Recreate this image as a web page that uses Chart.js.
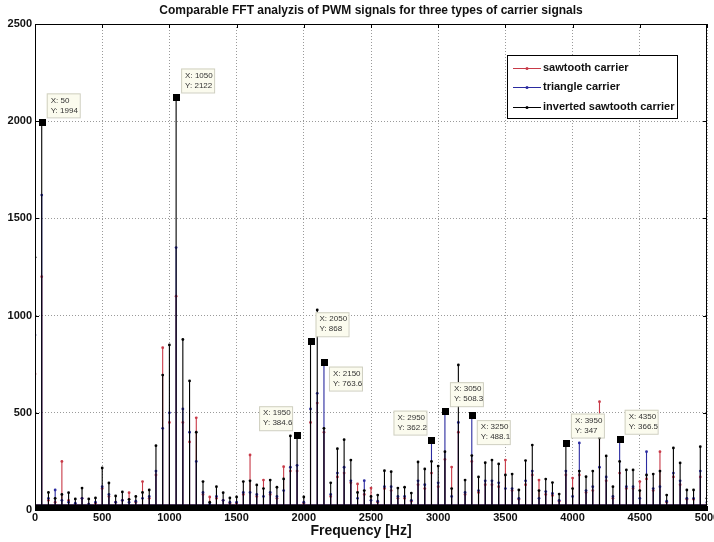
<!DOCTYPE html>
<html>
<head>
<meta charset="utf-8">
<script src="https://cdn.jsdelivr.net/npm/chart.js@4.4.1/dist/chart.umd.min.js"></script>
<style>
html,body{margin:0;padding:0;background:#fff}
#wrap{width:714px;height:542px}
</style>
</head>
<body>
<div id="wrap"><canvas id="fft" width="714" height="542"></canvas></div>
<script>
// harmonic frequencies (Hz)
var freqs = [0,50,100,150,200,250,300,350,400,450,500,550,600,650,700,750,800,850,900,950,
  1000,1050,1100,1150,1200,1250,1300,1350,1400,1450,1500,1550,1600,1650,1700,1750,1800,1850,1900,1950,
  2000,2050,2100,2150,2200,2250,2300,2350,2400,2450,2500,2550,2600,2650,2700,2750,2800,2850,2900,2950,
  3000,3050,3100,3150,3200,3250,3300,3350,3400,3450,3500,3550,3600,3650,3700,3750,3800,3850,3900,3950,
  4000,4050,4100,4150,4200,4250,4300,4350,4400,4450,4500,4550,4600,4650,4700,4750,4800,4850,4900,4950,5000];

var sawtooth = [700,1200,50,40,250,50,30,60,30,35,110,70,40,50,89,40,146,60,180,835,
  450,1100,450,350,474,80,67,60,50,35,35,80,283,70,154,80,60,223,200,200,
  35,450,550,400,70,170,190,140,134,80,113,40,110,100,60,60,45,130,110,190,
  120,260,221,400,80,250,90,130,130,120,257,100,55,130,180,154,80,75,45,180,
  164,180,90,100,557,150,60,190,110,110,146,160,100,300,40,170,130,55,55,170,30];

var triangle = [900,1620,60,103,50,40,35,60,30,40,120,80,40,50,40,45,60,70,200,420,
  500,1350,520,400,250,90,30,70,50,40,40,90,90,80,70,90,70,100,220,230,
  40,520,600,763.6,80,190,220,150,60,151,50,45,120,120,70,70,50,150,130,362.2,
  140,508.3,70,450,90,488.1,100,150,150,140,110,110,60,150,200,60,95,85,50,200,
  70,345,100,120,220,170,70,366.5,120,120,60,300,110,120,45,190,150,60,60,200,40];

var invSawtooth = [1300,1994,90,60,80,89,57,113,57,62,216,139,72,93,55,70,90,103,331,694,
  849,2122,877,664,400,146,40,120,89,62,67,146,150,129,110,154,117,160,381,384.6,
  67,868,1029,420,140,315,362,257,90,100,70,77,202,197,113,117,87,247,211,250,
  226,300,110,746,154,280,170,243,257,237,180,185,103,254,334,100,159,141,82,347,
  110,200,171,200,370,278,120,250,206,206,100,180,185,200,77,319,242,103,103,326,60];

var seriesNames = ['sawtooth carrier','triangle carrier','inverted sawtooth carrier'];
var seriesColors = ['#c83a48','#2b2ba0','#000000'];

// data tips
var tipX = [50,1050,1950,2050,2150,2950,3050,3250,3950,4350];
var tipY = [1994,2122,384.6,868,763.6,362.2,508.3,488.1,347,366.5];
var tipSide = ['ru','ru','lu','ru','rd','lu','ru','rd','ru','ru'];

var xTicks = [0,500,1000,1500,2000,2500,3000,3500,4000,4500,5000];
var yTicks = [0,500,1000,1500,2000,2500];

function stems(vals){
  var pts=[];
  for(var i=0;i<freqs.length;i++){
    pts.push({x:freqs[i],y:0});
    pts.push({x:freqs[i],y:vals[i]});
    pts.push({x:freqs[i],y:0});
  }
  return pts;
}

function makeSet(k, vals, ord){
  return {
    label: seriesNames[k],
    data: stems(vals),
    borderColor: seriesColors[k],
    backgroundColor: seriesColors[k],
    borderWidth: 1.1,
    // dense low-level floor along the baseline
    segment: {
      borderWidth: function(ctx){ return (ctx.p0.parsed.y===0 && ctx.p1.parsed.y===0) ? 11 : 1.1; }
    },
    pointRadius: function(ctx){ return ctx.raw && ctx.raw.y>0 ? 1.4 : 0; },
    pointBorderWidth: 0,
    pointBackgroundColor: seriesColors[k],
    tension: 0,
    fill: false,
    order: ord
  };
}

var tickFont = {family:'"Liberation Sans Narrow", "Liberation Sans", Arial, sans-serif', size:11, weight:'bold'};

var extras = {
  id:'extras',
  afterDraw:function(chart){
    var c=chart.ctx, a=chart.chartArea, xs=chart.scales.x, ys=chart.scales.y;
    c.save();
    // box frame + inner ticks
    c.strokeStyle='#000'; c.lineWidth=1;
    c.strokeRect(a.left+0.5, a.top+0.5, a.right-a.left-1, a.bottom-a.top-1);
    c.beginPath();
    xTicks.forEach(function(t){
      var px=Math.round(xs.getPixelForValue(t))+0.5;
      c.moveTo(px,a.bottom); c.lineTo(px,a.bottom-4);
      c.moveTo(px,a.top); c.lineTo(px,a.top+4);
    });
    yTicks.forEach(function(t){
      var py=Math.round(ys.getPixelForValue(t))+0.5;
      c.moveTo(a.left,py); c.lineTo(a.left+4,py);
      c.moveTo(a.right,py); c.lineTo(a.right-4,py);
    });
    c.stroke();

    // title
    c.fillStyle='#111';
    c.font='bold 12px "Liberation Sans Narrow", "Liberation Sans", Arial, sans-serif';
    c.textAlign='center'; c.textBaseline='middle';
    c.fillText('Comparable FFT analyzis of PWM signals for three types of carrier signals', (a.left+a.right)/2, 11);

    // x label
    c.font='bold 14px "Liberation Sans", Arial, sans-serif';
    c.fillText('Frequency [Hz]', (a.left+a.right)/2-10, 531);

    // data tips
    c.font='8px "Liberation Sans", Arial, sans-serif';
    for(var i=0;i<tipX.length;i++){
      var px=xs.getPixelForValue(tipX[i]), py=ys.getPixelForValue(tipY[i]);
      var w=33, h=24, bx, by, s=tipSide[i];
      bx = s.charAt(0)==='r' ? px+5 : px-5-w;
      by = s.charAt(1)==='u' ? py-5-h : py+5;
      c.fillStyle='#fbfbee';
      c.fillRect(bx,by,w,h);
      c.strokeStyle='#cfcfc0'; c.lineWidth=1;
      c.strokeRect(bx+0.5,by+0.5,w,h);
      c.fillStyle='#333'; c.textAlign='left'; c.textBaseline='middle';
      c.fillText('X: '+tipX[i], bx+4, by+7);
      c.fillText('Y: '+tipY[i], bx+4, by+17);
      c.fillStyle='#000';
      c.fillRect(Math.round(px)-3, Math.round(py)-3, 7, 7);
    }

    // legend
    var lx=507, ly=55, lw=170, lh=63;
    c.fillStyle='#fff'; c.fillRect(lx,ly,lw,lh);
    c.strokeStyle='#000'; c.lineWidth=1; c.strokeRect(lx+0.5,ly+0.5,lw,lh);
    c.font='bold 11px "Liberation Sans", Arial, sans-serif';
    c.textAlign='left'; c.textBaseline='middle';
    for(var k=0;k<seriesNames.length;k++){
      var yy=ly+12.5+k*19.5;
      c.strokeStyle=seriesColors[k]; c.lineWidth=1;
      c.beginPath(); c.moveTo(lx+6,Math.round(yy)+0.5); c.lineTo(lx+34,Math.round(yy)+0.5); c.stroke();
      c.fillStyle=seriesColors[k];
      c.beginPath(); c.arc(lx+20,Math.round(yy)+0.5,1.5,0,Math.PI*2); c.fill();
      c.fillStyle='#111';
      c.fillText(seriesNames[k], lx+36, yy);
    }
    c.restore();
  }
};

function plainTick(v){ return String(v); }

new Chart(document.getElementById('fft'), {
  type:'line',
  data:{
    datasets:[
      makeSet(0, sawtooth, 2),
      makeSet(1, triangle, 1),
      makeSet(2, invSawtooth, 0)
    ]
  },
  options:{
    responsive:false,
    animation:false,
    events:[],
    layout:{padding:{top:24,right:7,left:0,bottom:0}},
    plugins:{legend:{display:false},tooltip:{enabled:false},title:{display:false}},
    scales:{
      x:{
        type:'linear', min:0, max:5000,
        afterBuildTicks:function(s){ s.ticks = xTicks.map(function(v){return {value:v};}); },
        ticks:{font:tickFont, color:'#111', maxRotation:0, autoSkip:false, padding:1, callback:plainTick},
        grid:{color:'#9a9a9a', drawTicks:false, lineWidth:1},
        border:{display:true, color:'#000', width:1, dash:[1,2]},
        afterFit:function(s){ s.height=32; s.paddingRight=0; s.paddingLeft=0; }
      },
      y:{
        min:0, max:2500,
        afterBuildTicks:function(s){ s.ticks = yTicks.map(function(v){return {value:v};}); },
        ticks:{font:tickFont, color:'#111', padding:3, callback:plainTick},
        grid:{color:'#9a9a9a', drawTicks:false, lineWidth:1},
        border:{display:true, color:'#000', width:1, dash:[1,2]},
        afterFit:function(s){ s.width=35; }
      }
    }
  },
  plugins:[extras]
});
</script>
</body>
</html>
